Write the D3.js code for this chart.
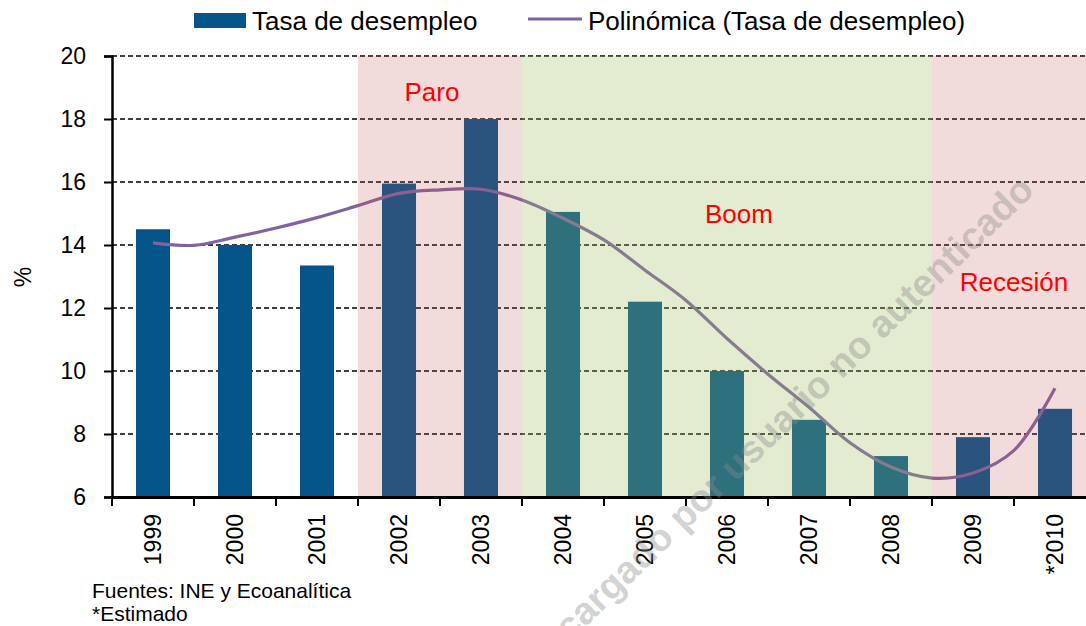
<!DOCTYPE html>
<html>
<head>
<meta charset="utf-8">
<script src="https://cdn.jsdelivr.net/npm/d3@7"></script>
<style>
  body { margin: 0; background: #fff; }
  svg { display: block; font-family: "Liberation Sans", Arial, sans-serif; }
</style>
</head>
<body>
<div id="chart"></div>
<script>
// datos
var years = ["1999", "2000", "2001", "2002", "2003", "2004", "2005", "2006", "2007", "2008", "2009", "*2010"];
var tasa = [14.5, 14.0, 13.35, 15.95, 18.0, 15.05, 12.2, 10.0, 8.45, 7.3, 7.9, 8.8];
// linea de tendencia (posicion = indice del año)
var trendPos = [0, 0.5, 1, 1.5, 2, 2.5, 3, 3.5, 4, 4.5, 5, 5.5, 6, 6.5, 7, 7.5, 8, 8.5, 9, 9.5, 10, 10.5, 11];
var trendVal = [14.07, 13.99, 14.25, 14.54, 14.87, 15.25, 15.64, 15.75, 15.77, 15.43, 14.85, 14.16,
                13.2, 12.24, 11.03, 9.9, 8.85, 7.72, 6.95, 6.6, 6.76, 7.48, 9.45];
var yTicks = [6, 8, 10, 12, 14, 16, 18, 20];
var phases = [
  {name: "Paro", from: "2002", to: "2003", color: "#C0504D", alpha: 0.2, lx: 432, ly: 92},
  {name: "Boom", from: "2004", to: "2008", color: "#9BBB59", alpha: 0.28, lx: 739, ly: 214},
  {name: "Recesión", from: "2009", to: "*2010", color: "#C0504D", alpha: 0.2, lx: 1014, ly: 282}
];

var width = 1086, height = 626;
var plotLeft = 112, plotRight = 1096, plotTop = 56, plotBottom = 497;

var svg = d3.select("#chart").append("svg")
  .attr("width", width).attr("height", height);

var x = d3.scaleBand().domain(years).range([plotLeft, plotRight]).paddingInner(0.585).paddingOuter(0.2925);
var xLin = d3.scaleLinear().domain([-0.5, years.length - 0.5]).range([plotLeft, plotRight]);
var y = d3.scaleLinear().domain([6, 20]).range([plotBottom, plotTop]);

// grid
svg.append("g").selectAll("line")
  .data(yTicks.filter(function(d){ return d > 6; })).enter().append("line")
  .attr("x1", plotLeft).attr("x2", plotRight)
  .attr("y1", function(d){ return y(d); }).attr("y2", function(d){ return y(d); })
  .attr("stroke", "#000").attr("stroke-width", 1.4).attr("stroke-dasharray", "5,3");

// barras
svg.append("g").selectAll("rect")
  .data(tasa).enter().append("rect")
  .attr("x", function(d, i){ return x(years[i]); })
  .attr("width", x.bandwidth())
  .attr("y", function(d){ return y(d); })
  .attr("height", function(d){ return plotBottom - y(d); })
  .attr("fill", "#05558B");

// tendencia
var line = d3.line()
  .x(function(d, i){ return xLin(trendPos[i]); })
  .y(function(d){ return y(d); })
  .curve(d3.curveCatmullRom);
svg.append("path").datum(trendVal)
  .attr("d", line)
  .attr("fill", "none").attr("stroke", "#8064A2").attr("stroke-width", 3.2);

// fases
var step = x.step();
svg.append("g").selectAll("rect")
  .data(phases).enter().append("rect")
  .attr("x", function(d){ return x(d.from) - x.paddingInner() * step / 2; })
  .attr("width", function(d){ return x(d.to) - x(d.from) + step; })
  .attr("y", plotTop).attr("height", plotBottom - plotTop)
  .attr("fill", function(d){ return d.color; })
  .attr("fill-opacity", function(d){ return d.alpha; });

svg.append("g").selectAll("text")
  .data(phases).enter().append("text")
  .attr("x", function(d){ return d.lx; }).attr("y", function(d){ return d.ly; })
  .attr("dy", "0.35em").attr("text-anchor", "middle")
  .attr("font-size", 26).attr("fill", "#FF0000")
  .text(function(d){ return d.name; });

// eje y
var yAxis = svg.append("g").attr("transform", "translate(" + plotLeft + ",0)")
  .call(d3.axisLeft(y).tickValues(yTicks).tickSize(8).tickPadding(18));
yAxis.select(".domain").attr("stroke", "#000").attr("stroke-width", 2.5);
yAxis.selectAll(".tick line").attr("stroke", "#000").attr("stroke-width", 2);
yAxis.selectAll("text").attr("font-size", 23).attr("fill", "#000")
  .attr("font-family", "Liberation Sans, Arial, sans-serif");

// eje x
var xAxis = svg.append("g").attr("transform", "translate(0," + plotBottom + ")")
  .call(d3.axisBottom(x).tickSize(0).tickSizeOuter(0));
xAxis.select(".domain").attr("stroke", "#000").attr("stroke-width", 3);
xAxis.selectAll("text")
  .attr("font-size", 23).attr("fill", "#000")
  .attr("font-family", "Liberation Sans, Arial, sans-serif")
  .attr("transform", "rotate(-90)")
  .attr("text-anchor", "end")
  .attr("x", -17).attr("y", 0).attr("dy", "0.35em");
svg.append("g").selectAll("line")
  .data(d3.range(years.length + 1)).enter().append("line")
  .attr("x1", function(d){ return plotLeft + d * step; })
  .attr("x2", function(d){ return plotLeft + d * step; })
  .attr("y1", plotBottom).attr("y2", plotBottom + 9)
  .attr("stroke", "#000").attr("stroke-width", 2);

// titulo eje
svg.append("text")
  .attr("transform", "translate(31,277) rotate(-90)")
  .attr("text-anchor", "middle").attr("font-size", 23).text("%");

// leyenda
var lg = svg.append("g");
lg.append("rect").attr("x", 194).attr("y", 13).attr("width", 52).attr("height", 15).attr("fill", "#05558B");
lg.append("text").attr("x", 252).attr("y", 30).attr("font-size", 26).text("Tasa de desempleo");
lg.append("line").attr("x1", 528).attr("x2", 582).attr("y1", 19).attr("y2", 19)
  .attr("stroke", "#8064A2").attr("stroke-width", 3);
lg.append("text").attr("x", 588).attr("y", 30).attr("font-size", 26).text("Polinómica (Tasa de desempleo)");

// notas
svg.append("text").attr("x", 92).attr("y", 598).attr("font-size", 21).text("Fuentes: INE y Ecoanalítica");
svg.append("text").attr("x", 92).attr("y", 621).attr("font-size", 21).text("*Estimado");

// marca de agua
svg.append("text")
  .attr("transform", "translate(1036,192) rotate(-44)")
  .attr("text-anchor", "end")
  .attr("font-size", 38).attr("font-weight", "bold")
  .attr("fill", "#8a8a8a").attr("fill-opacity", 0.4)
  .text("descargado por usuario no autenticado");
</script>
</body>
</html>
